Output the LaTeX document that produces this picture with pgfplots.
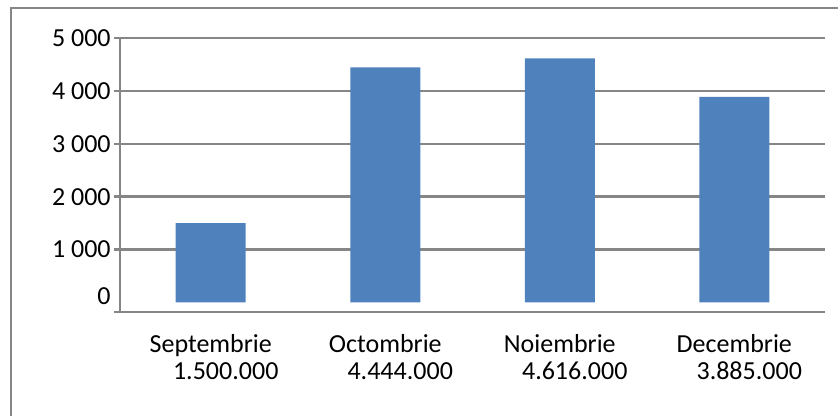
\documentclass[border=0pt]{standalone}
\usepackage{fontspec}
\setmainfont{Carlito}
\usepackage{pgfplots}
\pgfplotsset{compat=1.18}
\definecolor{barblue}{HTML}{4F81BD}
\definecolor{axgray}{HTML}{868686}
\begin{document}
\begin{tikzpicture}
\useasboundingbox (0,0) rectangle (628.5pt,312pt);
\draw[axgray, line width=1.8pt] (8.25pt,-2pt) -- (8.25pt,306pt) -- (631pt,306pt);
\begin{axis}[
  at={(90pt,78pt)}, anchor=south west,
  width=528.75pt, height=205.5pt, scale only axis,
  xmin=-0.52, xmax=3.52, ymin=-180, ymax=5000,
  ybar, bar width=52.5pt,
  axis x line*=bottom, axis y line*=left,
  axis line style={axgray, line width=1.8pt},
  ytick={1000,2000,3000,4000,5000},
  yticklabels={1 000,2 000,3 000,4 000,5 000},
  extra y ticks={-180}, extra y tick labels={0},
  extra y tick style={grid=none, tick label style={yshift=12pt}},
  ymajorgrids, grid style={axgray, line width=1.8pt},
  tick align=outside, major tick length=4.5pt,
  ytick style={axgray, line width=1.8pt},
  xtick={0,1,2,3}, xtick style={draw=none},
  xticklabels={{Septembrie\\\hspace*{22.5pt}1.500.000},{Octombrie\\\hspace*{22.5pt}4.444.000},{Noiembrie\\\hspace*{22.5pt}4.616.000},{Decembrie\\\hspace*{22.5pt}3.885.000}},
  xticklabel style={align=center, font=\fontsize{19.5}{20.25}\selectfont, yshift=-9pt},
  yticklabel style={font=\fontsize{19.5}{20.25}\selectfont, xshift=1pt},
  /pgf/number format/assume math mode=true,
]
\addplot[fill=barblue, draw=none] coordinates {(0,1500) (1,4444) (2,4616) (3,3885)};
\end{axis}
\end{tikzpicture}
\end{document}
